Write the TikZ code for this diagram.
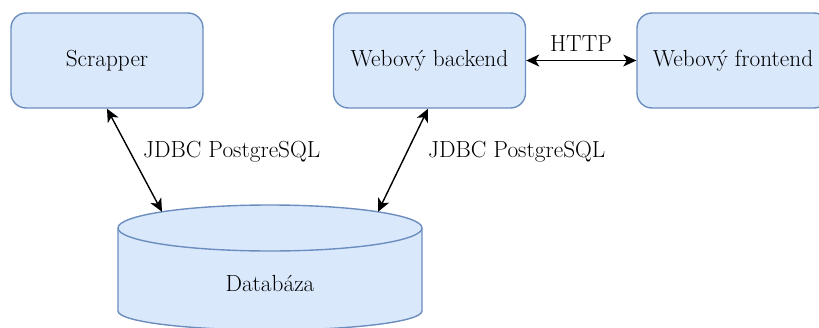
\documentclass[tikz,border=0pt]{standalone}
\usetikzlibrary{arrows.meta}
\definecolor{boxfill}{HTML}{DAE8FC}
\definecolor{boxline}{HTML}{6C8EBF}
\begin{document}
\begin{tikzpicture}[x=1pt,y=-1pt,
  box/.style={draw=boxline,fill=boxfill,line width=1.4pt,rounded corners=15pt,
    minimum width=192pt,minimum height=95pt,inner sep=0pt,
    font=\fontsize{23.3}{28}\selectfont},
  lbl/.style={font=\fontsize{23.3}{28}\selectfont,inner sep=0pt},
  conn/.style={line width=1.4pt,
    {Stealth[length=13pt,width=12pt,inset=3.5pt]}-{Stealth[length=13pt,width=12pt,inset=3.5pt]}}]
\useasboundingbox (0,0) rectangle (819,327);
% boxes
\node[box] (scr) at (107,60.5) {Scrapper};
\node[box] (be) at (429.5,60.5) {Webový backend};
\node[box] (fe) at (733,60.5) {Webový frontend};
% database cylinder
\path[draw=boxline,fill=boxfill,line width=1.4pt]
  (118,228) -- (118,311)
  arc[start angle=180,end angle=360,x radius=152pt,y radius=19pt]
  -- (422,228)
  arc[start angle=0,end angle=180,x radius=152pt,y radius=23pt] -- cycle;
\draw[boxline,line width=1.4pt] (118,228)
  arc[start angle=180,end angle=360,x radius=152pt,y radius=23pt];
\node[lbl] (db) at (270,283) {Databáza};
\coordinate (dbl) at (162,211.8);
\coordinate (dbr) at (378,211.8);
% connectors
\draw[conn] (scr.south) -- (dbl);
\draw[conn] ([xshift=-1.5pt]be.south) -- (dbr);
\draw[conn] (be.east) -- (fe.west);
% labels
\node[lbl,anchor=west] (l1) at (143,152) {JDBC PostgreSQL};
\node[lbl,anchor=west] (l2) at (428,152) {JDBC PostgreSQL};
\node[lbl] (l3) at (581,43.5) {HTTP};
\end{tikzpicture}
\end{document}
